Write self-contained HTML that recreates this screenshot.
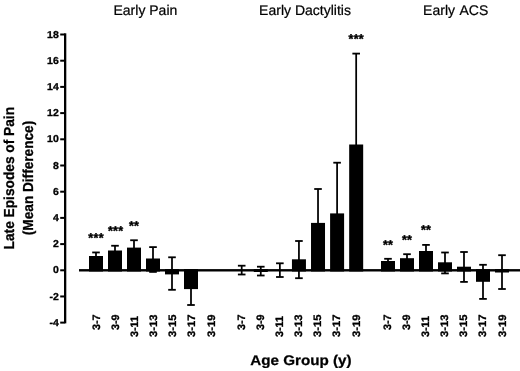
<!DOCTYPE html>
<html><head><meta charset="utf-8"><title>Late Episodes of Pain</title>
<style>html,body{margin:0;padding:0;background:#fff;}body{width:520px;height:371px;overflow:hidden;}svg{display:block;will-change:transform;}text{text-rendering:geometricPrecision;font-family:"Liberation Sans",Arial,Helvetica,sans-serif;fill:#000;}</style>
</head><body>
<svg width="520" height="371" viewBox="0 0 520 371">
<rect x="0" y="0" width="520" height="371" fill="#ffffff"/>
<text x="145.4" y="14.6" font-size="14" text-anchor="middle" fill="#000" stroke="#000" stroke-width="0.22">Early Pain</text>
<text x="305.0" y="14.6" font-size="14" text-anchor="middle" fill="#000" stroke="#000" stroke-width="0.22">Early Dactylitis</text>
<text x="423.1" y="14.6" font-size="14" fill="#000" stroke="#000" stroke-width="0.22">Early <tspan dx="0.6" letter-spacing="0.05">ACS</tspan></text>
<rect x="64" y="33.3" width="2.3" height="290.1" fill="#000"/>
<rect x="60.2" y="321.62" width="4.5" height="2" fill="#000"/>
<text transform="translate(58.8,325.72) scale(1.05,1)" font-size="10" font-weight="bold" text-anchor="end" stroke="#000" stroke-width="0.3">-4</text>
<rect x="60.2" y="295.46" width="4.5" height="2" fill="#000"/>
<text transform="translate(58.8,299.56) scale(1.05,1)" font-size="10" font-weight="bold" text-anchor="end" stroke="#000" stroke-width="0.3">-2</text>
<rect x="60.2" y="269.30" width="4.5" height="2" fill="#000"/>
<text transform="translate(58.8,273.40) scale(1.05,1)" font-size="10" font-weight="bold" text-anchor="end" stroke="#000" stroke-width="0.3">0</text>
<rect x="60.2" y="243.10" width="4.5" height="2" fill="#000"/>
<text transform="translate(58.8,247.20) scale(1.05,1)" font-size="10" font-weight="bold" text-anchor="end" stroke="#000" stroke-width="0.3">2</text>
<rect x="60.2" y="216.90" width="4.5" height="2" fill="#000"/>
<text transform="translate(58.8,221.00) scale(1.05,1)" font-size="10" font-weight="bold" text-anchor="end" stroke="#000" stroke-width="0.3">4</text>
<rect x="60.2" y="190.70" width="4.5" height="2" fill="#000"/>
<text transform="translate(58.8,194.80) scale(1.05,1)" font-size="10" font-weight="bold" text-anchor="end" stroke="#000" stroke-width="0.3">6</text>
<rect x="60.2" y="164.50" width="4.5" height="2" fill="#000"/>
<text transform="translate(58.8,168.60) scale(1.05,1)" font-size="10" font-weight="bold" text-anchor="end" stroke="#000" stroke-width="0.3">8</text>
<rect x="60.2" y="138.30" width="4.5" height="2" fill="#000"/>
<text transform="translate(58.8,142.40) scale(1.05,1)" font-size="10" font-weight="bold" text-anchor="end" stroke="#000" stroke-width="0.3">10</text>
<rect x="60.2" y="112.10" width="4.5" height="2" fill="#000"/>
<text transform="translate(58.8,116.20) scale(1.05,1)" font-size="10" font-weight="bold" text-anchor="end" stroke="#000" stroke-width="0.3">12</text>
<rect x="60.2" y="85.90" width="4.5" height="2" fill="#000"/>
<text transform="translate(58.8,90.00) scale(1.05,1)" font-size="10" font-weight="bold" text-anchor="end" stroke="#000" stroke-width="0.3">14</text>
<rect x="60.2" y="59.70" width="4.5" height="2" fill="#000"/>
<text transform="translate(58.8,63.80) scale(1.05,1)" font-size="10" font-weight="bold" text-anchor="end" stroke="#000" stroke-width="0.3">16</text>
<rect x="60.2" y="33.50" width="4.5" height="2" fill="#000"/>
<text transform="translate(58.8,37.60) scale(1.05,1)" font-size="10" font-weight="bold" text-anchor="end" stroke="#000" stroke-width="0.3">18</text>
<rect x="79" y="269.10" width="441" height="2.4" fill="#000"/>
<text transform="translate(14.1,178.2) rotate(-90) scale(0.945,1)" font-size="14.5" font-weight="bold" stroke="#000" stroke-width="0.3" text-anchor="middle">Late Episodes of Pain</text>
<text transform="translate(32.7,178.0) rotate(-90) scale(0.94,1)" font-size="14.5" font-weight="bold" stroke="#000" stroke-width="0.3" text-anchor="middle">(Mean Difference)</text>
<text transform="translate(301,365) scale(1.085,1)" font-size="14" font-weight="bold" stroke="#000" stroke-width="0.25" text-anchor="middle">Age Group (y)</text>
<rect x="95.12" y="252.45" width="1.75" height="17.85" fill="#000"/>
<rect x="92.20" y="251.55" width="7.6" height="1.8" fill="#000"/>
<rect x="89.00" y="256.00" width="14.0" height="15.50" fill="#000"/>
<text transform="translate(100.00,314.5) rotate(-90) scale(1.0,1)" font-size="10.8" font-weight="bold" text-anchor="end" stroke="#000" stroke-width="0.3">3-7</text>
<text x="96.10" y="242.30" font-size="12.6" font-weight="bold" text-anchor="middle" letter-spacing="0.3" stroke="#000" stroke-width="0.45" stroke-linejoin="round">***</text>
<rect x="114.12" y="245.75" width="1.75" height="24.55" fill="#000"/>
<rect x="111.20" y="244.85" width="7.6" height="1.8" fill="#000"/>
<rect x="108.00" y="250.50" width="14.0" height="21.00" fill="#000"/>
<text transform="translate(119.00,314.5) rotate(-90) scale(1.0,1)" font-size="10.8" font-weight="bold" text-anchor="end" stroke="#000" stroke-width="0.3">3-9</text>
<text x="115.70" y="235.00" font-size="12.6" font-weight="bold" text-anchor="middle" letter-spacing="0.3" stroke="#000" stroke-width="0.45" stroke-linejoin="round">***</text>
<rect x="133.12" y="240.25" width="1.75" height="30.05" fill="#000"/>
<rect x="130.20" y="239.35" width="7.6" height="1.8" fill="#000"/>
<rect x="127.00" y="247.60" width="14.0" height="23.90" fill="#000"/>
<text transform="translate(138.00,316.0) rotate(-90) scale(1.0,1)" font-size="10.8" font-weight="bold" text-anchor="end" stroke="#000" stroke-width="0.3">3-11</text>
<text x="134.10" y="229.80" font-size="12.6" font-weight="bold" text-anchor="middle" letter-spacing="0.3" stroke="#000" stroke-width="0.45" stroke-linejoin="round">**</text>
<rect x="152.12" y="247.10" width="1.75" height="24.80" fill="#000"/>
<rect x="149.20" y="246.20" width="7.6" height="1.8" fill="#000"/>
<rect x="149.20" y="271.00" width="7.6" height="1.8" fill="#000"/>
<rect x="146.00" y="258.50" width="14.0" height="13.00" fill="#000"/>
<text transform="translate(157.00,314.5) rotate(-90) scale(1.04,1)" font-size="10.8" font-weight="bold" text-anchor="end" stroke="#000" stroke-width="0.3">3-13</text>
<rect x="171.12" y="257.30" width="1.75" height="32.50" fill="#000"/>
<rect x="168.20" y="256.40" width="7.6" height="1.8" fill="#000"/>
<rect x="168.20" y="288.90" width="7.6" height="1.8" fill="#000"/>
<rect x="165.00" y="269.10" width="14.0" height="5.30" fill="#000"/>
<text transform="translate(176.00,314.5) rotate(-90) scale(1.04,1)" font-size="10.8" font-weight="bold" text-anchor="end" stroke="#000" stroke-width="0.3">3-15</text>
<rect x="190.12" y="270.30" width="1.75" height="34.70" fill="#000"/>
<rect x="187.20" y="304.10" width="7.6" height="1.8" fill="#000"/>
<rect x="184.00" y="269.10" width="14.0" height="20.00" fill="#000"/>
<text transform="translate(195.00,314.5) rotate(-90) scale(1.04,1)" font-size="10.8" font-weight="bold" text-anchor="end" stroke="#000" stroke-width="0.3">3-17</text>
<text transform="translate(214.85,314.5) rotate(-90) scale(1.04,1)" font-size="10.8" font-weight="bold" text-anchor="end" stroke="#000" stroke-width="0.3">3-19</text>
<rect x="240.82" y="265.70" width="1.75" height="8.80" fill="#000"/>
<rect x="237.90" y="264.80" width="7.6" height="1.8" fill="#000"/>
<rect x="237.90" y="273.60" width="7.6" height="1.8" fill="#000"/>
<text transform="translate(245.00,314.5) rotate(-90) scale(1.0,1)" font-size="10.8" font-weight="bold" text-anchor="end" stroke="#000" stroke-width="0.3">3-7</text>
<rect x="259.90" y="266.70" width="1.75" height="8.80" fill="#000"/>
<rect x="256.98" y="265.80" width="7.6" height="1.8" fill="#000"/>
<rect x="256.98" y="274.60" width="7.6" height="1.8" fill="#000"/>
<rect x="253.78" y="269.10" width="14.0" height="2.90" fill="#000"/>
<text transform="translate(264.08,314.5) rotate(-90) scale(1.0,1)" font-size="10.8" font-weight="bold" text-anchor="end" stroke="#000" stroke-width="0.3">3-9</text>
<rect x="278.99" y="263.30" width="1.75" height="13.70" fill="#000"/>
<rect x="276.06" y="262.40" width="7.6" height="1.8" fill="#000"/>
<rect x="276.06" y="276.10" width="7.6" height="1.8" fill="#000"/>
<text transform="translate(283.16,316.0) rotate(-90) scale(1.0,1)" font-size="10.8" font-weight="bold" text-anchor="end" stroke="#000" stroke-width="0.3">3-11</text>
<rect x="298.06" y="241.00" width="1.75" height="37.20" fill="#000"/>
<rect x="295.14" y="240.10" width="7.6" height="1.8" fill="#000"/>
<rect x="295.14" y="277.30" width="7.6" height="1.8" fill="#000"/>
<rect x="291.94" y="259.30" width="14.0" height="12.20" fill="#000"/>
<text transform="translate(302.24,314.5) rotate(-90) scale(1.04,1)" font-size="10.8" font-weight="bold" text-anchor="end" stroke="#000" stroke-width="0.3">3-13</text>
<rect x="317.14" y="189.00" width="1.75" height="81.30" fill="#000"/>
<rect x="314.22" y="188.10" width="7.6" height="1.8" fill="#000"/>
<rect x="311.02" y="222.90" width="14.0" height="48.60" fill="#000"/>
<text transform="translate(321.32,314.5) rotate(-90) scale(1.04,1)" font-size="10.8" font-weight="bold" text-anchor="end" stroke="#000" stroke-width="0.3">3-15</text>
<rect x="336.22" y="162.70" width="1.75" height="107.60" fill="#000"/>
<rect x="333.30" y="161.80" width="7.6" height="1.8" fill="#000"/>
<rect x="330.10" y="213.40" width="14.0" height="58.10" fill="#000"/>
<text transform="translate(340.40,314.5) rotate(-90) scale(1.04,1)" font-size="10.8" font-weight="bold" text-anchor="end" stroke="#000" stroke-width="0.3">3-17</text>
<rect x="355.30" y="53.60" width="1.75" height="216.70" fill="#000"/>
<rect x="352.38" y="52.70" width="7.6" height="1.8" fill="#000"/>
<rect x="349.18" y="144.50" width="14.0" height="127.00" fill="#000"/>
<text transform="translate(360.33,314.5) rotate(-90) scale(1.04,1)" font-size="10.8" font-weight="bold" text-anchor="end" stroke="#000" stroke-width="0.3">3-19</text>
<text x="356.28" y="43.20" font-size="12.6" font-weight="bold" text-anchor="middle" letter-spacing="0.3" stroke="#000" stroke-width="0.45" stroke-linejoin="round">***</text>
<rect x="387.12" y="258.80" width="1.75" height="11.50" fill="#000"/>
<rect x="384.20" y="257.90" width="7.6" height="1.8" fill="#000"/>
<rect x="381.00" y="261.00" width="14.0" height="10.50" fill="#000"/>
<text transform="translate(391.30,314.5) rotate(-90) scale(1.0,1)" font-size="10.8" font-weight="bold" text-anchor="end" stroke="#000" stroke-width="0.3">3-7</text>
<text x="388.10" y="248.60" font-size="12.6" font-weight="bold" text-anchor="middle" letter-spacing="0.3" stroke="#000" stroke-width="0.45" stroke-linejoin="round">**</text>
<rect x="406.12" y="254.20" width="1.75" height="16.10" fill="#000"/>
<rect x="403.20" y="253.30" width="7.6" height="1.8" fill="#000"/>
<rect x="400.00" y="258.20" width="14.0" height="13.30" fill="#000"/>
<text transform="translate(410.30,314.5) rotate(-90) scale(1.0,1)" font-size="10.8" font-weight="bold" text-anchor="end" stroke="#000" stroke-width="0.3">3-9</text>
<text x="407.10" y="244.10" font-size="12.6" font-weight="bold" text-anchor="middle" letter-spacing="0.3" stroke="#000" stroke-width="0.45" stroke-linejoin="round">**</text>
<rect x="425.12" y="244.90" width="1.75" height="25.40" fill="#000"/>
<rect x="422.20" y="244.00" width="7.6" height="1.8" fill="#000"/>
<rect x="419.00" y="251.00" width="14.0" height="20.50" fill="#000"/>
<text transform="translate(429.30,316.0) rotate(-90) scale(1.0,1)" font-size="10.8" font-weight="bold" text-anchor="end" stroke="#000" stroke-width="0.3">3-11</text>
<text x="426.10" y="234.40" font-size="12.6" font-weight="bold" text-anchor="middle" letter-spacing="0.3" stroke="#000" stroke-width="0.45" stroke-linejoin="round">**</text>
<rect x="444.12" y="252.50" width="1.75" height="20.90" fill="#000"/>
<rect x="441.20" y="251.60" width="7.6" height="1.8" fill="#000"/>
<rect x="441.20" y="272.50" width="7.6" height="1.8" fill="#000"/>
<rect x="438.00" y="262.30" width="14.0" height="9.20" fill="#000"/>
<text transform="translate(448.30,314.5) rotate(-90) scale(1.04,1)" font-size="10.8" font-weight="bold" text-anchor="end" stroke="#000" stroke-width="0.3">3-13</text>
<rect x="463.12" y="252.00" width="1.75" height="29.90" fill="#000"/>
<rect x="460.20" y="251.10" width="7.6" height="1.8" fill="#000"/>
<rect x="460.20" y="281.00" width="7.6" height="1.8" fill="#000"/>
<rect x="457.00" y="266.70" width="14.0" height="4.80" fill="#000"/>
<text transform="translate(467.30,314.5) rotate(-90) scale(1.04,1)" font-size="10.8" font-weight="bold" text-anchor="end" stroke="#000" stroke-width="0.3">3-15</text>
<rect x="482.12" y="264.80" width="1.75" height="34.10" fill="#000"/>
<rect x="479.20" y="263.90" width="7.6" height="1.8" fill="#000"/>
<rect x="479.20" y="298.00" width="7.6" height="1.8" fill="#000"/>
<rect x="476.00" y="269.10" width="14.0" height="12.70" fill="#000"/>
<text transform="translate(486.30,314.5) rotate(-90) scale(1.04,1)" font-size="10.8" font-weight="bold" text-anchor="end" stroke="#000" stroke-width="0.3">3-17</text>
<rect x="501.12" y="255.20" width="1.75" height="33.80" fill="#000"/>
<rect x="498.20" y="254.30" width="7.6" height="1.8" fill="#000"/>
<rect x="498.20" y="288.10" width="7.6" height="1.8" fill="#000"/>
<rect x="495.00" y="269.10" width="14.0" height="3.40" fill="#000"/>
<text transform="translate(506.15,314.5) rotate(-90) scale(1.04,1)" font-size="10.8" font-weight="bold" text-anchor="end" stroke="#000" stroke-width="0.3">3-19</text>
</svg>
</body></html>
